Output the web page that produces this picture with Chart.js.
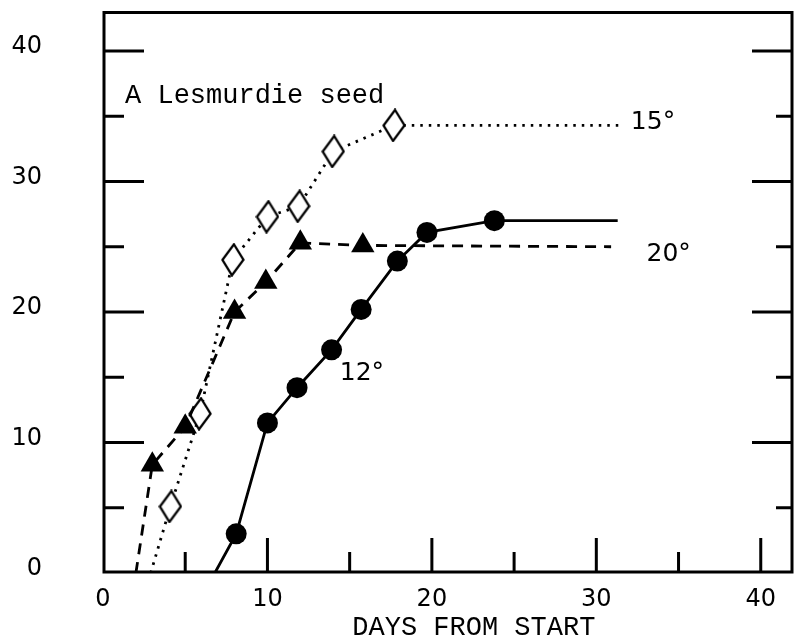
<!DOCTYPE html>
<html>
<head>
<meta charset="utf-8">
<script src="https://cdn.jsdelivr.net/npm/chart.js@4"></script>
<style>
  html, body { margin: 0; padding: 0; background: #fff; }
  #wrap { width: 796px; height: 641px; }
</style>
</head>
<body>
<div id="wrap"><canvas id="chart" width="796" height="641"></canvas></div>
<script>
// --- data (days from start / germination count) ---
// first and last entries of each series are line ends without a marker
const days12 = [6.8, 8.1, 10.0, 11.8, 13.9, 15.7, 17.9, 19.7, 23.8, 31.3];
const germ12 = [0, 3.0, 11.5, 14.2, 17.1, 20.2, 23.9, 26.1, 27.0, 27.0];

const days15 = [2.9, 4.1, 5.9, 7.9, 10.0, 11.9, 14.0, 17.7, 31.4];
const germ15 = [0, 5.1, 12.2, 24.0, 27.3, 28.1, 32.3, 34.3, 34.3];

const days20 = [2.0, 3.0, 5.0, 8.0, 9.9, 12.0, 15.8, 30.9];
const germ20 = [0, 8.3, 11.2, 20.0, 22.3, 25.3, 25.1, 25.0];

const xTickLabels = [0, 10, 20, 30, 40];
const yTickLabels = [0, 10, 20, 30, 40];
const tickMarks = [5, 10, 15, 20, 25, 30, 35, 40];

const X_MAX = 41.9;
const Y_MAX = 42.95;

// --- helpers ---
const toPoints = (xs, ys) => xs.map((x, i) => ({ x: x, y: ys[i] }));
const markerRadii = (n, r) => Array.from({ length: n }, (_, i) => (i === 0 || i === n - 1) ? 0 : r);

const makeDiamond = () => {
  const c = document.createElement("canvas");
  c.width = 24;
  c.height = 34;
  const g = c.getContext("2d");
  g.beginPath();
  g.moveTo(13, 1.5);
  g.lineTo(22.5, 17);
  g.lineTo(11, 32.5);
  g.lineTo(1.5, 17);
  g.closePath();
  g.fillStyle = "#fff";
  g.fill();
  g.lineWidth = 2.3;
  g.strokeStyle = "#000";
  g.stroke();
  return c;
};

// frame and inward tick marks, like the hand drawn original
const framePlugin = {
  id: "frame",
  beforeDatasetsDraw(chart) {
    const ctx = chart.ctx;
    const xs = chart.scales.x;
    const ys = chart.scales.y;
    const left = xs.left + 1, right = xs.right, top = ys.top, bottom = ys.bottom - 1;
    ctx.save();
    ctx.strokeStyle = "#000";
    ctx.lineWidth = 3;
    ctx.lineCap = "square";
    ctx.strokeRect(left, top, right - left, bottom - top);
    ctx.lineCap = "butt";
    tickMarks.forEach(v => {
      const major = v % 10 === 0;
      const py = ys.getPixelForValue(v);
      const px = xs.getPixelForValue(v);
      ctx.beginPath();
      ctx.moveTo(left, py);
      ctx.lineTo(left + (major ? 40 : 20), py);
      ctx.moveTo(right, py);
      ctx.lineTo(right - (major ? 40 : 16), py);
      ctx.moveTo(px, bottom);
      ctx.lineTo(px, bottom - (major ? 34 : 20));
      ctx.stroke();
    });
    ctx.restore();
  },
  afterDatasetsDraw(chart) {
    const ctx = chart.ctx;
    const xs = chart.scales.x;
    const ys = chart.scales.y;
    ctx.save();
    ctx.fillStyle = "#000";
    ctx.textBaseline = "middle";
    ctx.textAlign = "left";
    ctx.font = '27px "Liberation Mono", monospace';
    ctx.fillText("A Lesmurdie seed", xs.getPixelForValue(1.34), ys.getPixelForValue(36.55));
    ctx.font = '25px "DejaVu Sans", sans-serif';
    ctx.fillText("15°", xs.getPixelForValue(32.1), ys.getPixelForValue(34.5));
    ctx.fillText("20°", xs.getPixelForValue(33.05), ys.getPixelForValue(24.37));
    ctx.fillText("12°", xs.getPixelForValue(14.4), ys.getPixelForValue(15.25));
    ctx.textAlign = "center";
    ctx.font = '27px "Liberation Mono", monospace';
    ctx.fillText("DAYS FROM START", xs.getPixelForValue(22.55), chart.height - 13);
    ctx.restore();
  }
};

const tickFont = { family: '"DejaVu Sans", sans-serif', size: 24 };

new Chart(document.getElementById("chart"), {
  type: "scatter",
  data: {
    datasets: [
      {
        label: "12°",
        data: toPoints(days12, germ12),
        showLine: true,
        borderColor: "#000",
        borderWidth: 2.8,
        backgroundColor: "#000",
        pointStyle: "circle",
        pointRadius: markerRadii(days12.length, 10.5),
        pointBorderWidth: 0,
        order: 0
      },
      {
        label: "20°",
        data: toPoints(days20, germ20),
        showLine: true,
        borderColor: "#000",
        borderWidth: 2.8,
        borderDash: [11, 8],
        backgroundColor: "#000",
        pointStyle: "triangle",
        pointRadius: markerRadii(days20.length, 13.5),
        pointBorderWidth: 0,
        order: 1
      },
      {
        label: "15°",
        data: toPoints(days15, germ15),
        showLine: true,
        borderColor: "#000",
        borderWidth: 2.8,
        borderDash: [2.5, 6],
        backgroundColor: "#fff",
        pointStyle: makeDiamond(),
        pointRadius: markerRadii(days15.length, 10),
        order: 2
      }
    ]
  },
  options: {
    responsive: false,
    animation: false,
    events: [],
    layout: { padding: { top: 12.5, right: 4, left: 0, bottom: 0 } },
    elements: { line: { tension: 0 } },
    plugins: { legend: { display: false }, tooltip: { enabled: false } },
    scales: {
      x: {
        type: "linear",
        min: 0,
        max: X_MAX,
        grid: { display: false },
        border: { display: false },
        afterFit: scale => {
          scale.height = 68;
          scale.paddingLeft = 0;
          scale.paddingRight = 0;
        },
        afterBuildTicks: scale => { scale.ticks = xTickLabels.map(v => ({ value: v })); },
        ticks: { color: "#000", font: tickFont, padding: 4, maxRotation: 0 }
      },
      y: {
        type: "linear",
        min: 0,
        max: Y_MAX,
        grid: { display: false },
        border: { display: false },
        afterFit: scale => {
          scale.width = 103;
          scale.paddingTop = 0;
          scale.paddingBottom = 0;
        },
        afterBuildTicks: scale => { scale.ticks = yTickLabels.map(v => ({ value: v })); },
        ticks: { color: "#000", font: tickFont, padding: 53, labelOffset: -4 }
      }
    }
  },
  plugins: [framePlugin]
});
</script>
</body>
</html>
